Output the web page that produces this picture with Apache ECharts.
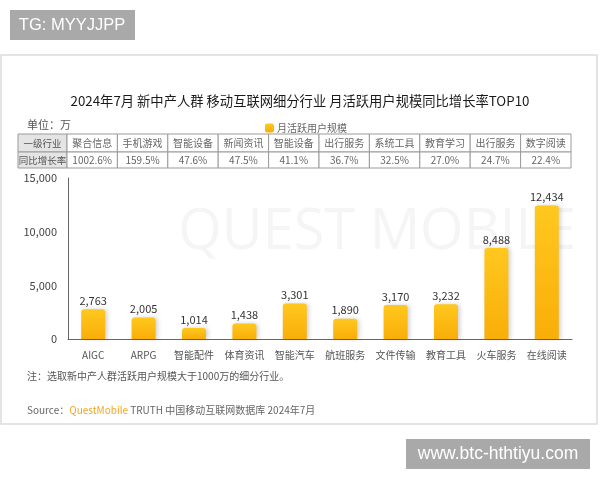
<!DOCTYPE html>
<html>
<head>
<meta charset="utf-8">
<script src="https://cdn.jsdelivr.net/npm/echarts@6/dist/echarts.min.js"></script>
<style>
  html, body { margin: 0; padding: 0; background: #fff; }
  #chart { width: 600px; height: 480px; }
</style>
</head>
<body>
<div id="chart"></div>
<script>
// 数据
const categories = ['AIGC', 'ARPG', '智能配件', '体育资讯', '智能汽车', '航班服务', '文件传输', '教育工具', '火车服务', '在线阅读'];
const mau = [2763, 2005, 1014, 1438, 3301, 1890, 3170, 3232, 8488, 12434];
const industries = ['聚合信息', '手机游戏', '智能设备', '新闻资讯', '智能设备', '出行服务', '系统工具', '教育学习', '出行服务', '数字阅读'];
const growth = ['1002.6%', '159.5%', '47.6%', '47.5%', '41.1%', '36.7%', '32.5%', '27.0%', '24.7%', '22.4%'];
const rowHeads = ['一级行业', '同比增长率'];

const FONT = '"Noto Sans CJK SC", "Noto Sans", sans-serif';
const gridLeft = 68, gridRight = 572;

let chart = echarts.init(document.getElementById('chart'));

// 表格
function buildTable() {
  let els = [];
  let colW = (gridRight - gridLeft) / industries.length;
  let rows = [134, 152, 168];
  let rowData = [industries, growth];
  for (let r = 0; r < 2; r++) {
    let y = rows[r], h = rows[r + 1] - rows[r];
    els.push({
      type: 'rect',
      shape: { x: 18, y: y, width: gridLeft - 1 - 18, height: h },
      style: { fill: '#e4e4e4', stroke: '#9a9a9a', lineWidth: 1 }
    });
    els.push({
      type: 'text', x: (18 + gridLeft - 1) / 2, y: y + h / 2,
      style: { text: rowHeads[r], font: '9.5px ' + FONT, fill: '#555', align: 'center', verticalAlign: 'middle' }
    });
    for (let i = 0; i < rowData[r].length; i++) {
      let x = gridLeft - 1 + i * colW;
      els.push({
        type: 'rect',
        shape: { x: x, y: y, width: colW, height: h },
        style: { fill: '#fff', stroke: '#9a9a9a', lineWidth: 1 }
      });
      els.push({
        type: 'text', x: x + colW / 2, y: y + h / 2,
        style: { text: rowData[r][i], font: '10px ' + FONT, fill: '#666', align: 'center', verticalAlign: 'middle' }
      });
    }
  }
  return els;
}

let option = {
  backgroundColor: '#fff',
  textStyle: { fontFamily: FONT },
  animation: false,
  title: {
    text: '2024年7月 新中产人群 移动互联网细分行业 月活跃用户规模同比增长率TOP10',
    left: 'center',
    top: 89,
    textStyle: { fontSize: 13.3, fontWeight: 'normal', color: '#1a1a1a', fontFamily: FONT }
  },
  legend: {
    left: 260,
    top: 118,
    icon: 'roundRect',
    itemWidth: 9,
    itemHeight: 9,
    itemGap: 4,
    data: ['月活跃用户规模'],
    textStyle: { fontSize: 10, color: '#666', fontFamily: FONT, padding: [0, 0, 0, -2] }
  },
  grid: { left: gridLeft, right: 600 - gridRight, top: 178, bottom: 141 },
  xAxis: {
    type: 'category',
    data: categories,
    axisLine: { lineStyle: { color: '#666', width: 1 } },
    axisTick: { show: false },
    axisLabel: { interval: 0, fontSize: 10, color: '#555', margin: 11, fontFamily: FONT }
  },
  yAxis: {
    type: 'value',
    min: 0,
    max: 15000,
    interval: 5000,
    axisLine: { show: true, lineStyle: { color: '#666', width: 1 } },
    axisTick: { show: false },
    splitLine: { show: false },
    axisLabel: {
      fontSize: 11, color: '#444', margin: 11, fontFamily: FONT,
      formatter: function (v) { return v.toLocaleString('en-US'); }
    }
  },
  series: [{
    name: '月活跃用户规模',
    type: 'bar',
    data: mau,
    barWidth: 24,
    itemStyle: {
      borderRadius: [3, 3, 0, 0],
      color: new echarts.graphic.LinearGradient(0, 0, 0, 1, [
        { offset: 0, color: '#FFC81F' },
        { offset: 1, color: '#F9AE08' }
      ]),
      shadowColor: 'rgba(0,0,0,0.18)',
      shadowBlur: 4,
      shadowOffsetX: 2,
      shadowOffsetY: 0
    },
    label: {
      show: true,
      position: 'top',
      distance: 3,
      fontSize: 11,
      color: '#333',
      fontFamily: FONT,
      formatter: function (p) { return p.value.toLocaleString('en-US'); }
    }
  }],
  graphic: [
    // 卡片
    {
      type: 'rect', z: -10,
      shape: { x: 1, y: 55, width: 596, height: 369 },
      style: { fill: '#fff', stroke: '#dcdcdc', lineWidth: 1.5 }
    },
    // 水印
    {
      type: 'text', z: -5, x: 377, y: 233,
      style: { text: 'QUEST MOBILE', font: '56px "Open Sans", sans-serif', fill: '#f5f5f5', align: 'center', verticalAlign: 'middle' }
    },
    // 顶部标签
    {
      type: 'rect', shape: { x: 10, y: 10, width: 125, height: 30 },
      style: { fill: '#a9a9a9' }
    },
    {
      type: 'text', x: 72, y: 25,
      style: { text: 'TG: MYYJJPP', font: '16.5px "Liberation Sans", sans-serif', fill: '#fff', align: 'center', verticalAlign: 'middle' }
    },
    // 底部标签
    {
      type: 'rect', shape: { x: 406, y: 439, width: 184, height: 30 },
      style: { fill: '#a9a9a9' }
    },
    {
      type: 'text', x: 498, y: 454,
      style: { text: 'www.btc-hthtiyu.com', font: '17.5px "Liberation Sans", sans-serif', fill: '#fff', align: 'center', verticalAlign: 'middle' }
    },
    {
      type: 'text', x: 27, y: 125,
      style: { text: '单位：万', font: '11px ' + FONT, fill: '#555', verticalAlign: 'middle' }
    },
    {
      type: 'text', x: 27, y: 376,
      style: { text: '注：选取新中产人群活跃用户规模大于1000万的细分行业。', font: '10px ' + FONT, fill: '#555', verticalAlign: 'middle' }
    },
    {
      type: 'text', x: 27, y: 410,
      style: {
        text: '{g|Source：}{o|QuestMobile}{g| TRUTH 中国移动互联网数据库 2024年7月}',
        verticalAlign: 'middle',
        rich: {
          g: { fontSize: 10, fill: '#666', fontFamily: FONT },
          o: { fontSize: 10, fill: '#F2A623', fontFamily: FONT }
        }
      }
    },
    { type: 'group', children: buildTable() }
  ]
};

chart.setOption(option);
</script>
</body>
</html>
